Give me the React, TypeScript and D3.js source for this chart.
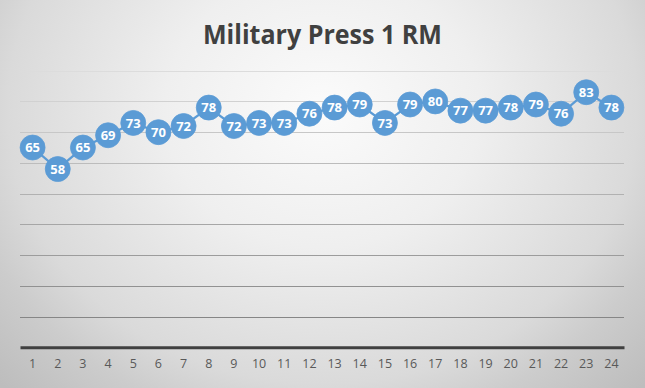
import React, { useEffect, useRef } from 'react';
import * as d3 from 'd3';

const title = 'Military Press 1 RM';
const sessions = ['1', '2', '3', '4', '5', '6', '7', '8', '9', '10', '11', '12', '13', '14', '15', '16', '17', '18', '19', '20', '21', '22', '23', '24'];
const press1RM = [65, 58, 65, 69, 73, 70, 72, 78, 72, 73, 73, 76, 78, 79, 73, 79, 80, 77, 77, 78, 79, 76, 83, 78];
const yTicks = [10, 20, 30, 40, 50, 60, 70, 80, 90];

const W = 645;
const H = 388;
const BLUE = '#5B9BD5';

const App = () => {
  const svgRef = useRef<SVGSVGElement>(null);

  useEffect(() => {
    if (!svgRef.current) return;
    const svg = d3.select(svgRef.current);
    svg.selectAll('*').remove();

    const margin = { top: 70.7, right: 21, bottom: 40.7, left: 20 };
    const x = d3.scaleBand().domain(sessions).range([margin.left, W - margin.right]);
    const y = d3.scaleLinear().domain([0, 90]).range([H - margin.bottom, margin.top]);

    // radial background, bright near the top centre
    const defs = svg.append('defs');
    const grad = defs.append('radialGradient').attr('id', 'bg')
      .attr('gradientUnits', 'userSpaceOnUse')
      .attr('cx', W / 2).attr('cy', 110).attr('r', 450)
      .attr('fx', W / 2).attr('fy', 110)
      .attr('gradientTransform', `translate(${W / 2},110) scale(1,0.87) translate(${-W / 2},-110)`);
    grad.append('stop').attr('offset', '0%').attr('stop-color', '#fbfbfb');
    grad.append('stop').attr('offset', '35%').attr('stop-color', '#efefef');
    grad.append('stop').attr('offset', '70%').attr('stop-color', '#dadada');
    grad.append('stop').attr('offset', '82%').attr('stop-color', '#cccccc');
    grad.append('stop').attr('offset', '100%').attr('stop-color', '#bdbdbd');
    svg.append('rect').attr('width', W).attr('height', H).attr('fill', 'url(#bg)');

    svg.append('text')
      .attr('x', W / 2).attr('y', 43.5)
      .attr('text-anchor', 'middle')
      .attr('font-family', '"Open Sans", Lato, sans-serif')
      .attr('font-weight', 'bold')
      .attr('font-size', 26)
      .attr('fill', '#404040')
      .attr('textLength', 239)
      .attr('lengthAdjust', 'spacingAndGlyphs')
      .text(title);

    // gridlines get darker towards the bottom, as in the original
    const gridColor = d3.scaleLinear<string>().domain([90, 10]).range(['#dcdcdc', '#868686']);
    svg.append('g').selectAll('line').data(yTicks).join('line')
      .attr('x1', margin.left).attr('x2', W - margin.right)
      .attr('y1', d => Math.round(y(d)) + 0.5).attr('y2', d => Math.round(y(d)) + 0.5)
      .attr('stroke', d => gridColor(d)).attr('stroke-width', 1);

    // x axis
    const xAxis = d3.axisBottom(x).tickSize(0).tickPadding(12);
    const gx = svg.append('g').attr('transform', `translate(0,${y(0)})`).call(xAxis);
    gx.select('.domain').attr('stroke', '#404040').attr('stroke-width', 3);
    gx.selectAll('text')
      .attr('font-family', '"Open Sans", Lato, sans-serif')
      .attr('font-size', 12.5)
      .attr('fill', '#595959');

    const cx = (d: string) => (x(d) ?? 0) + x.bandwidth() / 2;
    const pts = sessions.map((s, i) => ({ s, v: press1RM[i] }));

    const line = d3.line<{ s: string; v: number }>().x(d => cx(d.s)).y(d => y(d.v));
    svg.append('path').datum(pts)
      .attr('d', line)
      .attr('fill', 'none').attr('stroke', BLUE).attr('stroke-width', 2.25);

    const marks = svg.append('g').selectAll('g').data(pts).join('g')
      .attr('transform', d => `translate(${cx(d.s)},${y(d.v)})`);
    marks.append('circle').attr('r', 12.5).attr('fill', BLUE).attr('stroke', BLUE).attr('stroke-width', 0.75);
    marks.append('text')
      .attr('text-anchor', 'middle').attr('dy', '0.36em')
      .attr('font-family', '"Open Sans", Lato, sans-serif')
      .attr('font-weight', 'bold')
      .attr('font-size', 13)
      .attr('fill', '#ffffff')
      .text(d => d.v);
  }, []);

  return (
    <svg ref={svgRef} width={W} height={H} viewBox={`0 0 ${W} ${H}`}
      style={{ position: 'absolute', left: 0, top: 0, display: 'block' }} />
  );
};

export default App;
